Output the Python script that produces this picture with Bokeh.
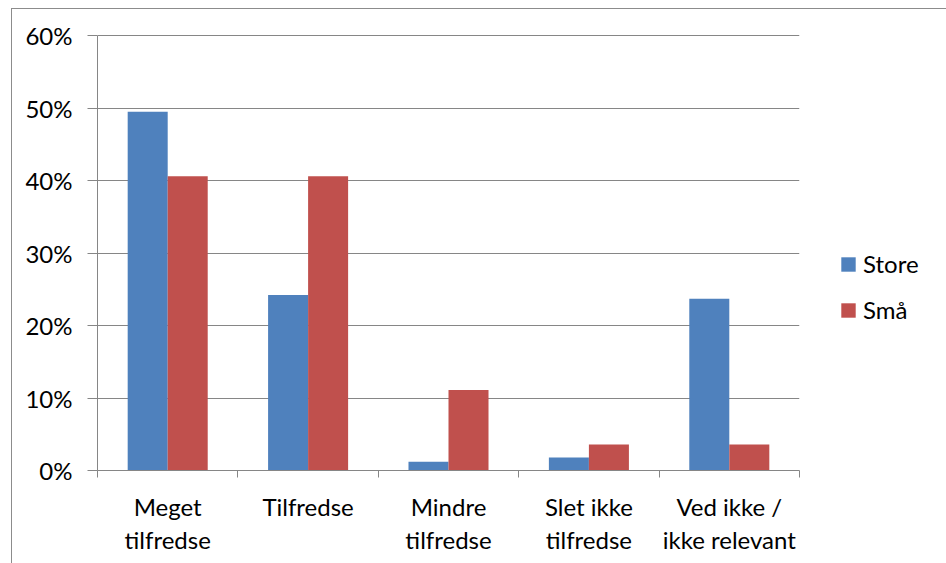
from bokeh.plotting import figure
from bokeh.models import (Range1d, LinearAxis, FixedTicker, NumeralTickFormatter,
                          Legend, LegendItem)
from bokeh.embed import file_html
from bokeh.resources import INLINE

# ---- data ----
categories = ["Meget\ntilfredse", "Tilfredse", "Mindre\ntilfredse",
              "Slet ikke\ntilfredse", "Ved ikke /\nikke relevant"]
store = [0.495, 0.242, 0.012, 0.018, 0.237]
smaa = [0.406, 0.406, 0.111, 0.036, 0.036]
series_names = ["Store", "Små"]
y_ticks = [0.0, 0.1, 0.2, 0.3, 0.4, 0.5, 0.6]

# ---- style ----
FONT = "Lato"
FS = "24px"
BLUE = "#4F81BD"
RED = "#C0504D"
GRID = "#868686"
BORDER = "#8c8c8c"

n = len(categories)
centers = [i + 0.5 for i in range(n)]
bw = 0.285

p = figure(frame_width=702, frame_height=437,
           x_range=Range1d(0, n), y_range=Range1d(0, 0.6 * 437 / 435),
           output_backend="svg", toolbar_location=None,
           x_axis_location=None, y_axis_location=None,
           min_border_left=85, min_border_right=145,
           min_border_top=24, min_border_bottom=93,
           margin=(9, 0, 0, 12))
p.styles = {"outline": "1.5px solid " + BORDER}
p.outline_line_color = None
p.background_fill_color = "white"
p.border_fill_color = "white"

# y axis
yax = LinearAxis(ticker=FixedTicker(ticks=y_ticks),
                 formatter=NumeralTickFormatter(format="0%"))
yax.axis_line_color = GRID
yax.major_tick_line_color = GRID
yax.major_tick_in = 0
yax.major_tick_out = 10
yax.minor_tick_line_color = None
yax.major_label_standoff = 15
yax.major_label_text_font = FONT
yax.major_label_text_font_size = FS
yax.major_label_text_color = "#000000"
yax.bounds = (0, 0.6)
p.add_layout(yax, "left")

# x tick axis (ticks between categories)
xt = LinearAxis(ticker=FixedTicker(ticks=list(range(n + 1))),
                major_label_overrides={i: "" for i in range(n + 1)})
xt.axis_line_color = GRID
xt.major_tick_line_color = GRID
xt.major_tick_in = 0
xt.major_tick_out = 7
xt.minor_tick_line_color = None
xt.major_label_standoff = 0
xt.major_label_text_font_size = "1px"
p.add_layout(xt, "below")

# x category label axis
xl = LinearAxis(ticker=FixedTicker(ticks=centers),
                major_label_overrides={c: lab for c, lab in zip(centers, categories)})
xl.axis_line_color = None
xl.major_tick_line_color = None
xl.major_tick_out = 0
xl.major_tick_in = 0
xl.minor_tick_line_color = None
xl.major_label_standoff = 14
xl.major_label_text_font = FONT
xl.major_label_text_font_size = FS
xl.major_label_text_color = "#000000"
xl.major_label_text_line_height = 1.15
p.add_layout(xl, "below")

# grid
p.ygrid.ticker = FixedTicker(ticks=y_ticks)
p.ygrid.grid_line_color = GRID
p.ygrid.grid_line_width = 1
p.xgrid.grid_line_color = None

r1 = p.vbar(x=[c - bw / 2 for c in centers], top=store, width=bw,
            fill_color=BLUE, line_color=None)
r2 = p.vbar(x=[c + bw / 2 for c in centers], top=smaa, width=bw,
            fill_color=RED, line_color=None)

legend = Legend(items=[LegendItem(label=series_names[0], renderers=[r1]),
                       LegendItem(label=series_names[1], renderers=[r2])],
                location=(40, 146))
legend.border_line_color = None
legend.background_fill_alpha = 0
legend.padding = 0
legend.margin = 0
legend.glyph_width = 18
legend.glyph_height = 18
legend.label_standoff = 6
legend.spacing = 17
legend.label_text_font = FONT
legend.label_text_font_size = FS
legend.label_text_color = "#000000"
p.add_layout(legend, "right")

open("out.html", "w").write(file_html(p, INLINE))
